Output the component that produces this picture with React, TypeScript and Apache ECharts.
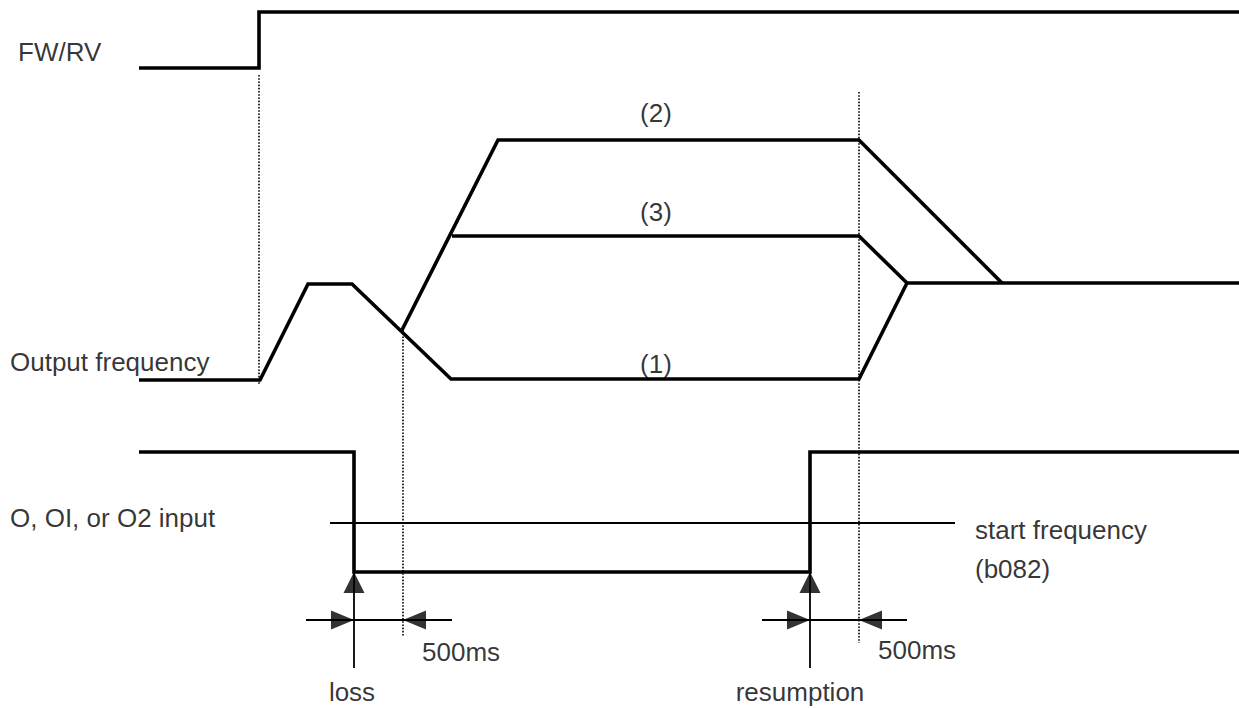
import React, { useEffect, useRef } from "react";
import * as echarts from "echarts";

// Signal traces in picture coordinates (x to the right, y downwards)
const fwrv: number[][] = [[139, 68], [259, 68], [259, 12], [1239, 12]];
const freq1: number[][] = [[139, 380], [260, 380], [308, 284], [352, 284], [451, 379], [859, 379], [907, 283], [1239, 283]];
const freq2: number[][] = [[402, 330], [498, 140], [859, 140], [1002, 283]];
const freq3: number[][] = [[452, 236], [859, 236], [907, 283]];
const inputSig: number[][] = [[139, 452], [354, 452], [354, 572], [810, 572], [810, 452], [1239, 452]];
const startFreq: number[][] = [[330, 523], [955, 523]];

const dotted: number[][][] = [
  [[259, 75], [259, 385]],
  [[403, 330], [403, 636]],
  [[859, 92], [859, 643]],
];

const thinLines: number[][][] = [
  [[354, 572], [354, 668]],
  [[810, 572], [810, 668]],
  [[306, 620], [452, 620]],
  [[762, 620], [907, 620]],
];

// arrow heads: tip x, tip y, direction
const arrowTips: [number, number, string][] = [
  [354, 572, "up"],
  [810, 572, "up"],
  [354, 620, "right"],
  [810, 620, "right"],
  [403, 620, "left"],
  [859, 620, "left"],
];

// text labels: text, x, y, alignment
const labels: [string, number, number, string][] = [
  ["FW/RV", 18, 52, "left"],
  ["Output frequency", 10, 362, "left"],
  ["O, OI, or O2 input", 10, 518, "left"],
  ["(2)", 656, 113, "center"],
  ["(3)", 656, 212, "center"],
  ["(1)", 656, 364, "center"],
  ["start frequency", 975, 530, "left"],
  ["(b082)", 975, 569, "left"],
  ["500ms", 422, 652, "left"],
  ["500ms", 878, 650, "left"],
  ["loss", 352, 692, "center"],
  ["resumption", 800, 692, "center"],
];

const W = 1239;
const H = 708;
const FONT = "'Liberation Sans', Arial, Helvetica, sans-serif";

export default function App() {
  const ref = useRef<HTMLDivElement>(null);
  useEffect(() => {
    document.body.style.margin = "0";
    const chart = echarts.init(ref.current!, undefined, { renderer: "svg" });
    const thick = (data: number[][]) => ({
      type: "line",
      data,
      showSymbol: false,
      silent: true,
      lineStyle: { color: "#000", width: 3.6, cap: "butt", join: "miter" },
    });
    const series: any[] = [
      thick(fwrv),
      thick(freq1),
      thick(freq2),
      thick(freq3),
      thick(inputSig),
      {
        type: "line",
        data: startFreq,
        showSymbol: false,
        silent: true,
        lineStyle: { color: "#000", width: 1.8 },
      },
    ];
    dotted.forEach((d) =>
      series.push({
        type: "line",
        data: d,
        showSymbol: false,
        silent: true,
        lineStyle: { color: "#000", width: 1.6, type: [1.6, 1.6] },
      })
    );
    thinLines.forEach((d) =>
      series.push({
        type: "line",
        data: d,
        showSymbol: false,
        silent: true,
        lineStyle: { color: "#000", width: 1.8 },
      })
    );
    series.push({
      type: "scatter",
      silent: true,
      data: arrowTips.map(([x, y, dir]) => {
        if (dir === "up") {
          return { value: [x, y], symbol: "triangle", symbolSize: [21, 21], symbolRotate: 0, symbolOffset: [0, 10.5] };
        }
        if (dir === "right") {
          return { value: [x, y], symbol: "triangle", symbolSize: [19, 23], symbolRotate: -90, symbolOffset: [-11.5, 0] };
        }
        return { value: [x, y], symbol: "triangle", symbolSize: [19, 23], symbolRotate: 90, symbolOffset: [11.5, 0] };
      }),
      itemStyle: { color: "#000" },
    });
    series.push({
      type: "scatter",
      silent: true,
      symbolSize: 0,
      data: labels.map(([t, x, y, a]) => ({
        value: [x, y],
        label: {
          show: true,
          formatter: t,
          position: [0, 0],
          align: a,
          verticalAlign: "middle",
          color: "#000",
          fontSize: 26,
          fontFamily: FONT,
        },
      })),
    });
    chart.setOption({
      animation: false,
      backgroundColor: "#fff",
      grid: { left: 0, right: 0, top: 0, bottom: 0 },
      xAxis: { type: "value", min: 0, max: W, show: false },
      yAxis: { type: "value", min: 0, max: H, inverse: true, show: false },
      series,
    });
    return () => chart.dispose();
  }, []);
  return <div ref={ref} style={{ position: "absolute", left: 0, top: 0, width: W, height: H }} />;
}
